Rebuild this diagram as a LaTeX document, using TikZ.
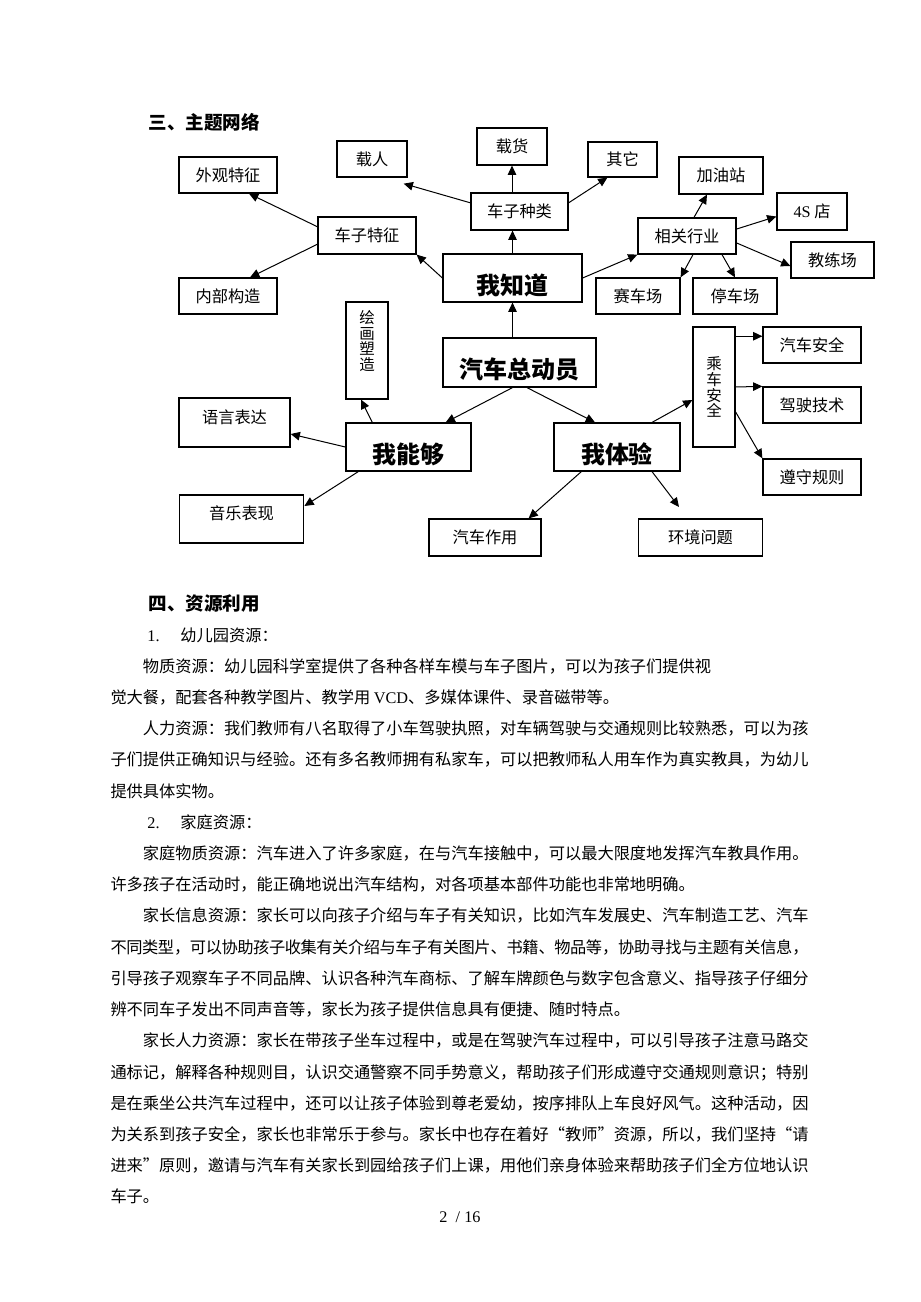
\documentclass[tikz,border=0pt]{standalone}
\usepackage{fontspec}
\setmainfont{Noto Sans CJK SC}
\newfontfamily\latinserif{Liberation Serif}
\usetikzlibrary{arrows.meta,calc}
\XeTeXlinebreaklocale "zh"
\XeTeXlinebreakskip=0pt plus 1pt minus 0.5pt

\begin{document}
\begin{tikzpicture}[x=0.6468pt, y=-0.6468pt, every node/.style={inner sep=0pt},
        every path/.style={line width=.65pt}, >={Triangle[length=6pt,width=5.5pt]},
        box/.style={draw, line width=.8pt, font=\fontsize{10.5pt}{12pt}\selectfont},
        big/.style={box, font=\fontsize{15.5pt}{18pt}\selectfont\bfseries, text height=22pt, text depth=1pt},
        upright/.style={box, font=\fontsize{10pt}{12pt}\selectfont},
        title/.style={anchor=west, font=\fontsize{12pt}{14pt}\selectfont\bfseries}]
    \useasboundingbox (0,0) rectangle (920,1302);

    \node[title] (net) at (148,122) {三、主题网络};

    \node[big, minimum width=89.9pt, minimum height=31pt] (zhidao) at (512.5,278) {我知道};
    \node[box, minimum width=62.7pt, minimum height=23.9pt] (zhonglei) at (519.5,211.5) {车子种类};
    \node[box, minimum width=45.3pt, minimum height=23.3pt] (zairen) at (372,159) {载人};
    \node[box, minimum width=45.3pt, minimum height=23.9pt] (zaihuo) at (512,146.5) {载货};
    \node[box, minimum width=44.6pt, minimum height=22.6pt] (qita) at (622.5,159.5) {其它};
    \node[box, minimum width=63.4pt, minimum height=23.9pt] (tezheng) at (367,235.5) {车子特征};
    \node[box, minimum width=63.4pt, minimum height=23.3pt] (waiguan) at (228,175) {外观特征};
    \node[box, minimum width=63.4pt, minimum height=23.3pt] (neibu) at (228,296) {内部构造};
    \node[box, minimum width=63.4pt, minimum height=23.3pt] (hangye) at (687,236) {相关行业};
    \node[box, minimum width=54.3pt, minimum height=23.9pt] (jiayou) at (721,175.5) {加油站};
    \node[box, minimum width=45.3pt, minimum height=23.9pt] (sidian) at (812,211.5) {{\latinserif 4S} 店};
    \node[box, minimum width=53.7pt, minimum height=23.3pt] (jiaolian) at (832.5,260) {教练场};
    \node[box, minimum width=54.3pt, minimum height=23.3pt] (saiche) at (638,296) {赛车场};
    \node[box, minimum width=54.3pt, minimum height=23.3pt] (tingche) at (735,296) {停车场};

    \node[big, minimum width=99pt, minimum height=31.7pt] (zong) at (519.5,362.5) {汽车总动员};

    \node[big, minimum width=80.9pt, minimum height=31pt] (nenggou) at (408.5,447) {我能够};
    \node[upright, minimum width=27.2pt, minimum height=62.7pt, text depth=13pt] (huihua) at (367,350.5)
        {\vbox{\baselineskip=10.2pt\hbox{绘}\hbox{画}\hbox{塑}\hbox{造}}};
    \node[box, minimum width=71.8pt, minimum height=31.7pt, text depth=8pt] (yuyan) at (234.5,422.5) {语言表达};
    \node[box, minimum width=80.6pt, minimum height=31pt, text depth=8pt] (yinyue) at (241.5,519) {音乐表现};

    \node[big, minimum width=81.5pt, minimum height=31pt] (tiyan) at (617,447) {我体验};
    \node[upright, minimum width=27.2pt, minimum height=77.6pt] (chengche) at (714,387)
        {\vbox{\baselineskip=10.3pt\hbox{乘}\hbox{车}\hbox{安}\hbox{全}}};
    \node[box, minimum width=63.4pt, minimum height=23.3pt] (anquan) at (812,345) {汽车安全};
    \node[box, minimum width=63.4pt, minimum height=23.3pt] (jiashi) at (812,405) {驾驶技术};
    \node[box, minimum width=63.4pt, minimum height=23.3pt] (guize) at (812,477) {遵守规则};
    \node[box, minimum width=72.4pt, minimum height=23.9pt] (zuoyong) at (485,537.5) {汽车作用};
    \node[box, minimum width=80.6pt, minimum height=23.9pt] (huanjing) at (700.5,537.5) {环境问题};
    \coordinate (hjtip) at (679,507);

    \draw[->] (zhidao.north) -- (zhidao.north |- zhonglei.south);
    \draw[->] (zaihuo.south |- zhonglei.north) -- (zaihuo.south);
    \draw[->] (zhonglei.170) -- ($(zairen.south east)+(-4,6)$);
    \draw[->] (zhonglei.10) -- ($(qita.south west)+(20,0)$);
    \draw[->] (zhidao.west) -- (tezheng.south east);
    \draw[->] (tezheng.170) -- ($(waiguan.south)+(21,0)$);
    \draw[->] (tezheng.190) -- ($(neibu.north)+(22,0)$);
    \draw[->] (zhidao.east) -- (hangye.south west);
    \draw[->] ($(hangye.north)+(7,0)$) -- ($(jiayou.south)+(-14,0)$);
    \draw[->] (hangye.8) -- ($(sidian.west)+(0,5)$);
    \draw[->] (hangye.352) -- ($(jiaolian.west)+(0,6)$);
    \draw[->] ($(hangye.south)+(6,0)$) -- (saiche.north east);
    \draw[->] ($(hangye.south)+(35,0)$) -- (tingche.north);

    \draw[->] (zhidao.south |- zong.north) -- (zhidao.south);
    \draw[->] (zhidao.south |- zong.south) -- ($(nenggou.north east)+(-26,0)$);
    \draw[->] ($(zong.south)+(7.5,0)$) -- ($(tiyan.north)+(-22,0)$);

    \draw[->] ($(nenggou.north west)+(27,0)$) -- ($(huihua.south)+(-6,0)$);
    \draw[->] (nenggou.west) -- ($(yuyan.east)+(0,11.5)$);
    \draw[->] ($(nenggou.south west)+(13,0)$) -- ($(yinyue.east)+(0,-13)$);

    \draw[->] ($(tiyan.north)+(35,0)$) -- ($(chengche.west)+(0,13)$);
    \draw[->] (chengche.east |- anquan.170) -- (anquan.170);
    \draw[->] (chengche.east) -- (jiashi.north west);
    \draw[->] ($(chengche.east)+(0,25)$) -- (guize.north west);
    \draw[->] ($(tiyan.south west)+(28,0)$) -- ($(zuoyong.north east)+(-13,0)$);
    \draw[->] ($(tiyan.south)+(35,0)$) -- (hjtip);

    \node[title] (use) at (148,604) {四、资源利用};
    \node[anchor=base west, text width=451.5pt, align=justify] (body) at (110,641) {%
        \fontsize{10.5pt}{20.19pt}\selectfont\setlength\parindent{21pt}%
        \noindent\hspace*{23.9pt}\makebox[21.3pt][l]{\latinserif 1.}幼儿园资源：\par
        物质资源：幼儿园科学室提供了各种各样车模与车子图片，可以为孩子们提供视\newline
        觉大餐，配套各种教学图片、教学用 {\latinserif VCD}、多媒体课件、录音磁带等。\par
        人力资源：我们教师有八名取得了小车驾驶执照，对车辆驾驶与交通规则比较熟悉，可以为孩\linebreak
        子们提供正确知识与经验。还有多名教师拥有私家车，可以把教师私人用车作为真实教具，为幼儿\linebreak
        提供具体实物。\par
        \noindent\hspace*{23.9pt}\makebox[21.3pt][l]{\latinserif 2.}家庭资源：\par
        家庭物质资源：汽车进入了许多家庭，在与汽车接触中，可以最大限度地发挥汽车教具作用。\linebreak
        许多孩子在活动时，能正确地说出汽车结构，对各项基本部件功能也非常地明确。\par
        家长信息资源：家长可以向孩子介绍与车子有关知识，比如汽车发展史、汽车制造工艺、汽车\linebreak
        不同类型，可以协助孩子收集有关介绍与车子有关图片、书籍、物品等，协助寻找与主题有关信息，\linebreak
        引导孩子观察车子不同品牌、认识各种汽车商标、了解车牌颜色与数字包含意义、指导孩子仔细分\linebreak
        辨不同车子发出不同声音等，家长为孩子提供信息具有便捷、随时特点。\par
        家长人力资源：家长在带孩子坐车过程中，或是在驾驶汽车过程中，可以引导孩子注意马路交\linebreak
        通标记，解释各种规则目，认识交通警察不同手势意义，帮助孩子们形成遵守交通规则意识；特别\linebreak
        是在乘坐公共汽车过程中，还可以让孩子体验到尊老爱幼，按序排队上车良好风气。这种活动，因\linebreak
        为关系到孩子安全，家长也非常乐于参与。家长中也存在着好“教师”资源，所以，我们坚持“请\linebreak
        进来”原则，邀请与汽车有关家长到园给孩子们上课，用他们亲身体验来帮助孩子们全方位地认识\linebreak
        车子。\par};
    \node[anchor=base, font=\latinserif\fontsize{10.5pt}{12pt}\selectfont] (page) at (460,1222) {2 \ / 16};
\end{tikzpicture}
\end{document}
